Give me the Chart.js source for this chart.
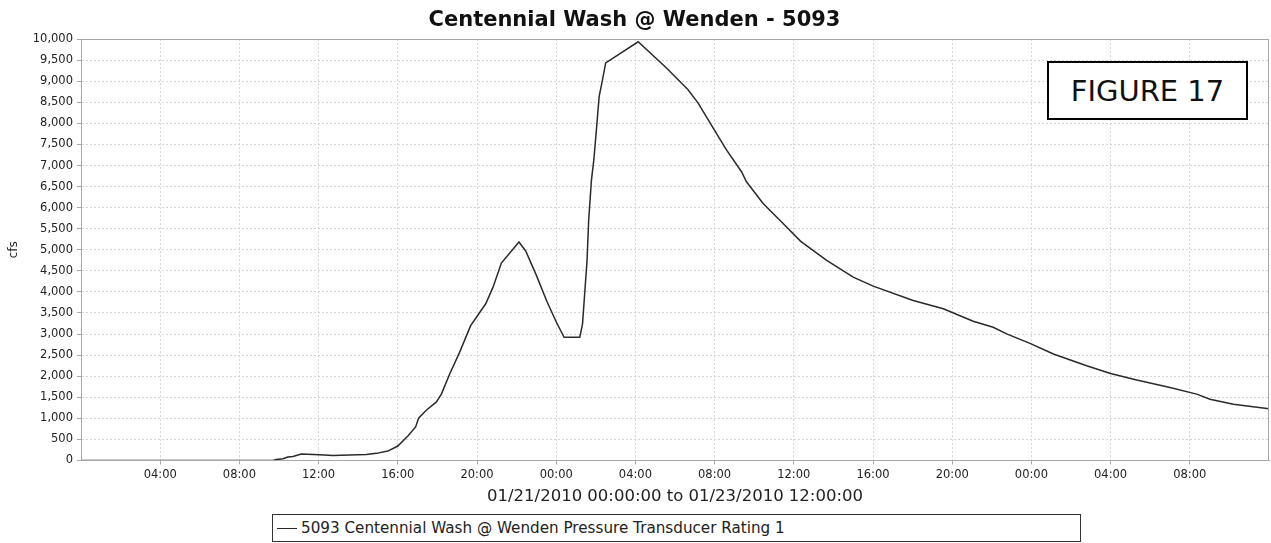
<!DOCTYPE html>
<html>
<head>
<meta charset="utf-8">
<title>Centennial Wash @ Wenden - 5093</title>
<script src="https://cdn.jsdelivr.net/npm/chart.js"></script>
<style>
  body { margin: 0; background: #fff; }
  #wrap { position: relative; width: 1271px; height: 543px; }
  #figure-label {
    position: absolute; left: 1047px; top: 61px; width: 201px; height: 59px;
    box-sizing: border-box; border: 2px solid #000; background: #fff;
    font: 29px 'DejaVu Sans', sans-serif; color: #111;
    display: flex; align-items: center; justify-content: center;
  }
  #legend {
    position: absolute; left: 272px; top: 514px; width: 809px; height: 28px;
    box-sizing: border-box; border: 1px solid #333; background: #fff;
    font: 15.2px 'DejaVu Sans', sans-serif; color: #222;
    display: flex; align-items: center; padding-left: 4px;
  }
  #legend .swatch { display: inline-block; width: 20px; height: 0; margin-right: 4px; }
</style>
</head>
<body>
<div id="wrap">
  <canvas id="flow-chart" width="1271" height="543"></canvas>
  <div id="figure-label">FIGURE 17</div>
  <div id="legend"></div>
</div>
<script>
// hours since 01/21/2010 00:00
const hoursFromStart = [0, 9.7, 9.86, 10.2, 10.45, 10.7, 11.13, 12.05, 12.72, 14.41,
  14.92, 15.5, 16.0, 16.51, 16.9, 17.05, 17.44, 17.95, 18.2, 18.62,
  19.12, 19.68, 20.44, 20.81, 21.23, 22.12, 22.46, 23.0, 23.51, 24.01,
  24.4, 25.19, 25.33, 25.56, 25.64, 25.78, 25.9, 26.03, 26.17, 26.29,
  26.5, 28.14, 29.57, 30.66, 31.17, 31.93, 32.6, 33.36, 33.61, 34.45,
  35.46, 36.35, 37.66, 39.0, 40.01, 42.03, 43.55, 45.06, 46.07, 46.75,
  47.93, 49.11, 50.79, 52.0, 53.32, 55.0, 56.35, 57.02, 58.2, 60];
const flowCfs = [0, 0, 24, 38, 79, 95, 150, 134, 119, 143,
  167, 222, 341, 579, 794, 1001, 1192, 1389, 1573, 2050,
  2565, 3200, 3718, 4113, 4686, 5186, 4972, 4392, 3797, 3280,
  2922, 2922, 3241, 4766, 5703, 6656, 7133, 7848, 8642, 8920,
  9437, 9938, 9318, 8801, 8484, 7888, 7371, 6854, 6616, 6101,
  5624, 5200, 4750, 4352, 4137, 3797, 3599, 3304, 3160, 3003,
  2779, 2526, 2247, 2064, 1907, 1730, 1573, 1454, 1335, 1225];
const tickHours = [4, 8, 12, 16, 20, 24, 28, 32, 36, 40, 44, 48, 52, 56];
const seriesLabel = '5093 Centennial Wash @ Wenden Pressure Transducer Rating 1';

Chart.defaults.font.family = "'DejaVu Sans', sans-serif";
Chart.defaults.color = '#222';

// gray frame round the plot area (top and right sides)
const plotFrame = {
    id: 'plotFrame',
    afterDraw(chart) {
        const { ctx, chartArea: a } = chart;
        ctx.save();
        ctx.strokeStyle = '#a8a8a8';
        ctx.lineWidth = 1;
        ctx.strokeRect(Math.round(a.left) + 0.5, Math.round(a.top) + 0.5,
            Math.round(a.right - a.left) - 1, Math.round(a.bottom - a.top));
        ctx.restore();
    }
};

// legend drawn as html under the chart
const htmlLegend = {
    id: 'htmlLegend',
    afterUpdate(chart) {
        const box = document.getElementById('legend');
        box.innerHTML = '';
        const items = chart.options.plugins.legend.labels.generateLabels(chart);
        items.forEach(item => {
            const sw = document.createElement('span');
            sw.className = 'swatch';
            sw.style.borderTop = '1px solid ' + item.strokeStyle;
            const txt = document.createElement('span');
            txt.textContent = item.text;
            box.appendChild(sw);
            box.appendChild(txt);
        });
    }
};

const points = hoursFromStart.map((h, i) => ({ x: h, y: flowCfs[i] }));

new Chart(document.getElementById('flow-chart'), {
    type: 'line',
    data: {
        datasets: [{
            label: seriesLabel,
            data: points,
            borderColor: '#2a2a2a',
            borderWidth: 1.5,
            pointRadius: 0,
            tension: 0,
            fill: false
        }]
    },
    options: {
        responsive: false,
        animation: false,
        layout: { padding: { left: 0, right: 2, top: 0, bottom: 34 } },
        plugins: {
            legend: { display: false },
            tooltip: { enabled: false },
            title: {
                display: true,
                text: 'Centennial Wash @ Wenden - 5093',
                color: '#111',
                font: { size: 21, weight: 'bold' },
                padding: { top: 8, bottom: 6 }
            }
        },
        scales: {
            x: {
                type: 'linear',
                min: 0,
                max: 60,
                afterBuildTicks: scale => { scale.ticks = tickHours.map(v => ({ value: v })); },
                ticks: {
                    autoSkip: false,
                    maxRotation: 0,
                    padding: 4,
                    color: '#222',
                    font: { size: 11.5 },
                    callback: v => String(v % 24).padStart(2, '0') + ':00'
                },
                grid: { color: '#d4d4d4', tickLength: 4, tickColor: '#a8a8a8' },
                border: { color: '#a8a8a8', dash: [2, 2] },
                title: {
                    display: true,
                    text: '01/21/2010 00:00:00 to 01/23/2010 12:00:00',
                    color: '#222',
                    font: { size: 16.5 },
                    padding: { top: 1, bottom: 2 }
                }
            },
            y: {
                min: 0,
                max: 10000,
                afterFit: scale => { scale.width = 81; },
                ticks: {
                    stepSize: 500,
                    padding: 4,
                    color: '#222',
                    font: { size: 11.5 },
                    callback: v => v.toLocaleString('en-US')
                },
                grid: { color: '#d4d4d4', tickLength: 4, tickColor: '#a8a8a8' },
                border: { color: '#a8a8a8', dash: [2, 2] },
                title: {
                    display: true,
                    text: 'cfs',
                    color: '#222',
                    font: { size: 12 },
                    padding: { top: 7, bottom: 4 }
                }
            }
        }
    },
    plugins: [plotFrame, htmlLegend]
});
</script>
</body>
</html>
